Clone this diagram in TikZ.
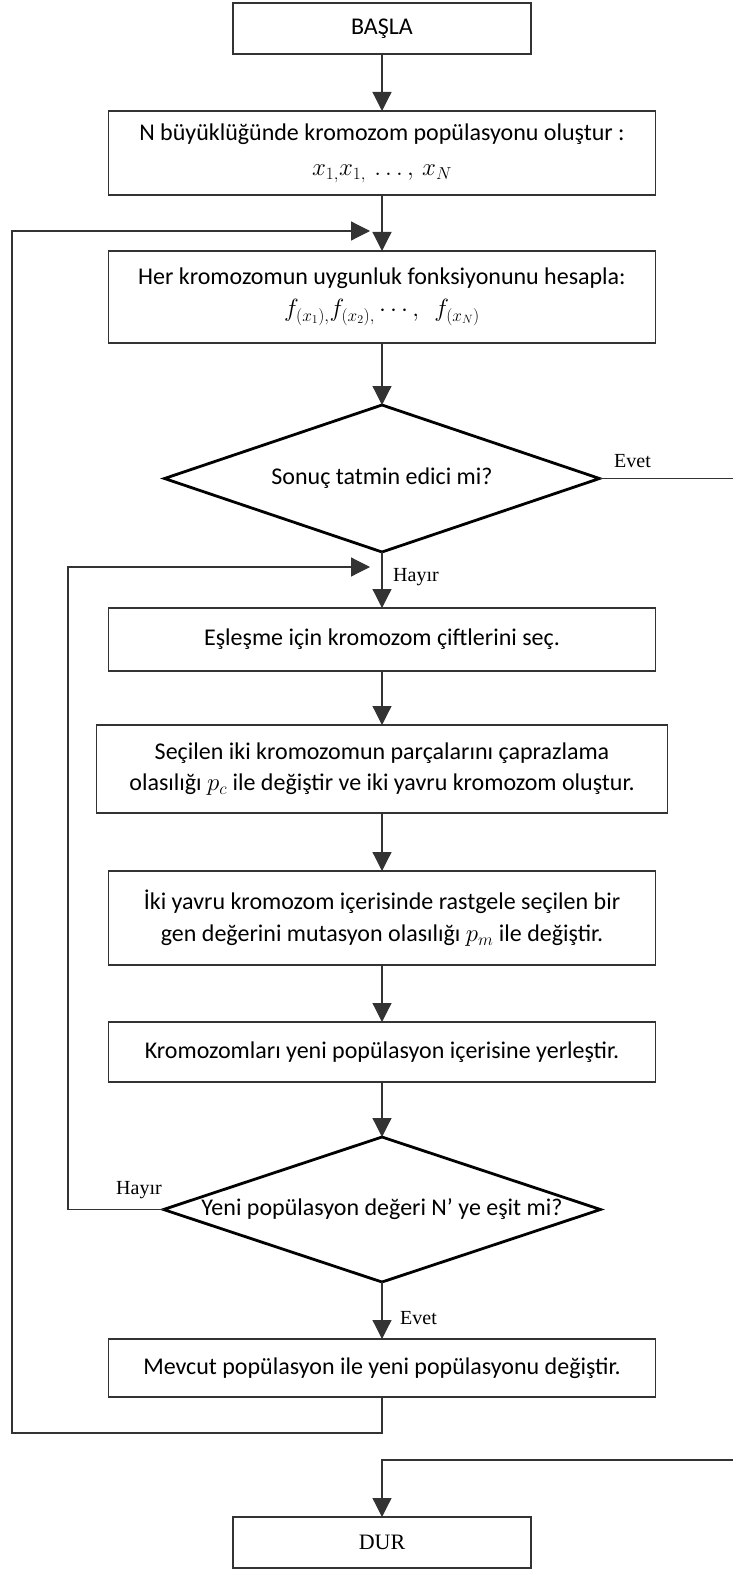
\documentclass[tikz,border=0pt]{standalone}
\usepackage{fontspec}
\setmainfont{Carlito}
\newfontfamily\labelfont{Liberation Serif}
\usetikzlibrary{arrows.meta,shapes.geometric}

\begin{document}
\begin{tikzpicture}[x=1pt, y=-1pt,
  box/.style={draw=black!80, line width=1.2pt, align=center, inner sep=0pt, outer sep=0pt,
    font=\fontsize{24}{31}\selectfont},
  decision/.style={draw=black, line width=2.8pt, shape=diamond, inner sep=0pt, outer sep=0pt,
    label={[font=\fontsize{24}{31}\selectfont]center:#1}},
  conn/.style={draw=black!80, line width=1.2pt, -{Triangle[length=19pt,width=19pt]}},
  answer/.style={font=\labelfont\fontsize{20}{24}\selectfont, inner sep=0pt}
]
\useasboundingbox (0,0) rectangle (732,1570);

% Main column of steps
\node[box, minimum width=298, minimum height=51] (basla) at (382,28.5) {BAŞLA};
\node[box, minimum width=547, minimum height=84] (init) at (382,153)
  {N büyüklüğünde kromozom popülasyonu oluştur :\\[4pt] $x_{1,}x_{1,}\,\ldots,\,x_N$};
\node[box, minimum width=547, minimum height=92] (fit) at (382,297)
  {Her kromozomun uygunluk fonksiyonunu hesapla:\\[1pt] $f_{(x_1),}f_{(x_2),}\cdots,\;\,f_{(x_N)}$};
\node[decision={Sonuç tatmin edici mi?}, minimum width=435, minimum height=147] (dec1) at (382,478.5) {};
\node[box, minimum width=547, minimum height=63] (select) at (382,639.5) {Eşleşme için kromozom çiftlerini seç.};
\node[box, minimum width=571, minimum height=88] (cross) at (382,769)
  {Seçilen iki kromozomun parçalarını çaprazlama\\ olasılığı $p_c$ ile değiştir ve iki yavru kromozom oluştur.};
\node[box, minimum width=547, minimum height=94] (mut) at (382,918)
  {İki yavru kromozom içerisinde rastgele seçilen bir\\[1pt] gen değerini mutasyon olasılığı $p_m$ ile değiştir.};
\node[box, minimum width=547, minimum height=60] (place) at (382,1052) {Kromozomları yeni popülasyon içerisine yerleştir.};
\node[decision={Yeni popülasyon değeri N’ ye eşit mi?}, minimum width=437, minimum height=145] (dec2) at (382,1209.5) {};
\node[box, minimum width=547, minimum height=58] (repl) at (382,1368) {Mevcut popülasyon ile yeni popülasyonu değiştir.};
\node[box, minimum width=298, minimum height=51, font=\labelfont\fontsize{22}{26}\selectfont] (dur) at (382,1542.5) {DUR};

% Straight connectors
\draw[conn] (basla) -- (init);
\draw[conn] (init) -- (fit);
\draw[conn] (fit) -- (dec1);
\draw[conn] (dec1) -- (select);
\draw[conn] (select) -- (cross);
\draw[conn] (cross) -- (mut);
\draw[conn] (mut) -- (place);
\draw[conn] (place) -- (dec2);
\draw[conn] (dec2) -- (repl);

% Loops back
\coordinate (outerin) at (370,231);
\coordinate (innerin) at (370,567);
\draw[conn] (repl.south) -- ++(0,36) -| (12,231) -- (outerin);
\draw[conn] (dec2.west) -- (68,1209.5) |- (innerin);

% Exit to DUR along the right edge
\draw[conn] (dec1.east) -| (736,1460) -| (dur.north);

% Answers
\node[answer, anchor=south west] (yes1) at (614,468) {Evet};
\node[answer, anchor=west] (no1) at (393,577) {Hayır};
\node[answer, anchor=south] (no2) at (139,1199) {Hayır};
\node[answer, anchor=west] (yes2) at (400,1318) {Evet};

\end{tikzpicture}
\end{document}
